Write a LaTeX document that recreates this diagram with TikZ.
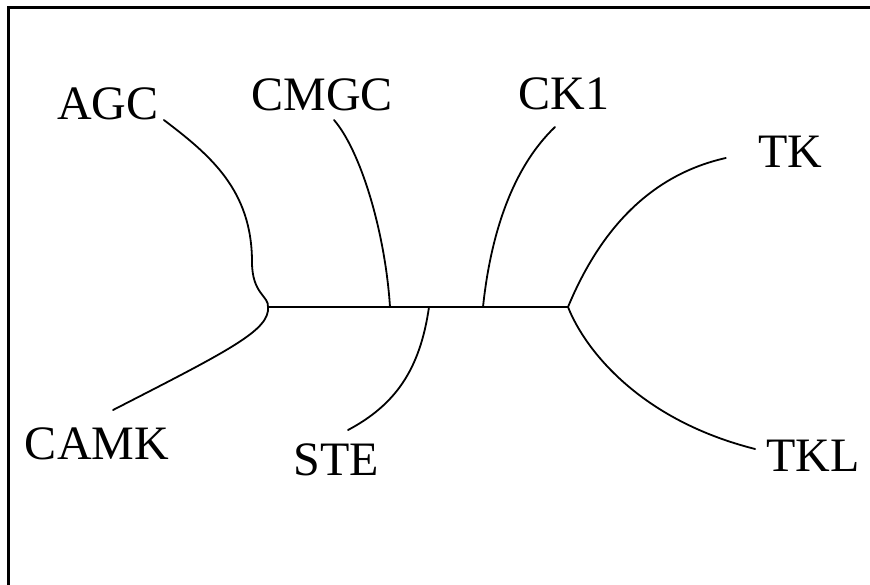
\documentclass[tikz,border=0pt]{standalone}
\usepackage{fontspec}
\setmainfont{Liberation Serif}
\usepackage{tikz}

\begin{document}
\begin{tikzpicture}[x=1pt,y=-1pt,
                    taxon/.style={inner sep=0pt, anchor=base, font=\fontsize{48}{56}\selectfont},
                    branch/.style={draw,line width=1.8pt,black,line cap=round}]
  \useasboundingbox (0,0) rectangle (870,585);
  % frame
  \draw[line width=3pt] (8.7,590) -- (8.7,8) -- (875,8);
  % group names
  \node[taxon] (agc)  at (108,120) {AGC};
  \node[taxon] (cmgc) at (322,111) {CMGC};
  \node[taxon] (ck1)  at (564,110) {CK1};
  \node[taxon] (tk)   at (790,168) {TK};
  \node[taxon] (camk) at (97,459)  {CAMK};
  \node[taxon] (ste)  at (336,475) {STE};
  \node[taxon] (tkl)  at (813,471) {TKL};
  % inner points of the tree
  \coordinate (left)  at (268,307);
  \coordinate (jcmgc) at (390,307);
  \coordinate (jste)  at (429,307);
  \coordinate (jck1)  at (483,307);
  \coordinate (right) at (568,307);
  % backbone
  \draw[branch] (left) -- (jcmgc) -- (jste) -- (jck1) -- (right);
  % branches
  \draw[branch] (left) .. controls (269,296) and (252,294) .. (252,262)
                       .. controls (252,190) and (210,155) .. ([xshift=5pt]agc.base east);
  \draw[branch] (left) .. controls (270,330) and (230,350) .. ([xshift=16pt,yshift=17pt]camk.north);
  \draw[branch] (jcmgc) .. controls (385,230) and (360,150) .. ([xshift=12pt,yshift=-9pt]cmgc.base);
  \draw[branch] (jste) .. controls (420,370) and (395,405) .. ([xshift=12pt,yshift=13pt]ste.north);
  \draw[branch] (jck1) .. controls (490,240) and (510,170) .. ([xshift=-9pt,yshift=-17pt]ck1.base);
  \draw[branch] (right) .. controls (600,230) and (650,175) .. ([xshift=-32pt,yshift=10pt]tk.base west);
  \draw[branch] (right) .. controls (585,350) and (640,420) .. ([xshift=-11pt,yshift=22pt]tkl.base west);
\end{tikzpicture}
\end{document}
